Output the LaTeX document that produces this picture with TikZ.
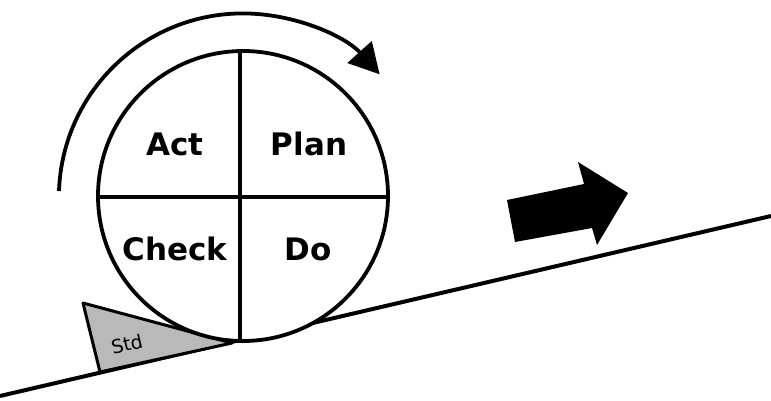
\documentclass[tikz,border=0pt]{standalone}
\usepackage{fontspec}
\setmainfont{DejaVu Sans}
\usetikzlibrary{arrows.meta}
\begin{document}
\begin{tikzpicture}[x=1pt,y=-1pt,
  thick line/.style={line width=3.8pt},
  label/.style={font=\bfseries\fontsize{31}{31}\selectfont, anchor=base, inner sep=0pt}]
\useasboundingbox (0,0) rectangle (771,400);
% ground
\coordinate (g1) at (0,396);
\coordinate (g2) at (771,216);
\draw[line width=4pt] (g1) -- (g2);
% wedge
\coordinate (w1) at (83,303);
\coordinate (w2) at (100,372);
\coordinate (w3) at (232,343);
\filldraw[fill=gray!55, line width=3pt, line join=round] (w1) -- (w2) -- (w3) -- cycle;
\node[rotate=13, font=\fontsize{19}{19}\selectfont, inner sep=0pt] (std) at (127,344) {Std};
% circle
\coordinate (c) at (243,196);
\draw[thick line, fill=white] (c) circle[radius=145];
\coordinate (l) at (98,197);
\coordinate (r) at (388,197);
\coordinate (t) at (240,51);
\coordinate (b) at (240,342);
\draw[thick line] (l) -- (r);
\draw[thick line] (t) -- (b);
\node[label] (act) at (175,155) {Act};
\node[label] (plan) at (309,155) {Plan};
\node[label] (check) at (175,260) {Check};
\node[label] (do) at (308,260) {Do};
% arc arrow
\draw[line width=3.8pt, -{Triangle[length=30pt,width=32pt]}] (59,191) arc[start angle=-178, end angle=-42, radius=184];
% block arrow
\coordinate (a1) at (507,200);
\coordinate (a2) at (515,242);
\coordinate (a3) at (592,228);
\coordinate (a4) at (597,245);
\coordinate (a5) at (628,193);
\coordinate (a6) at (578,162);
\coordinate (a7) at (584,184);
\fill (a1) -- (a2) -- (a3) -- (a4) -- (a5) -- (a6) -- (a7) -- cycle;
\end{tikzpicture}
\end{document}
